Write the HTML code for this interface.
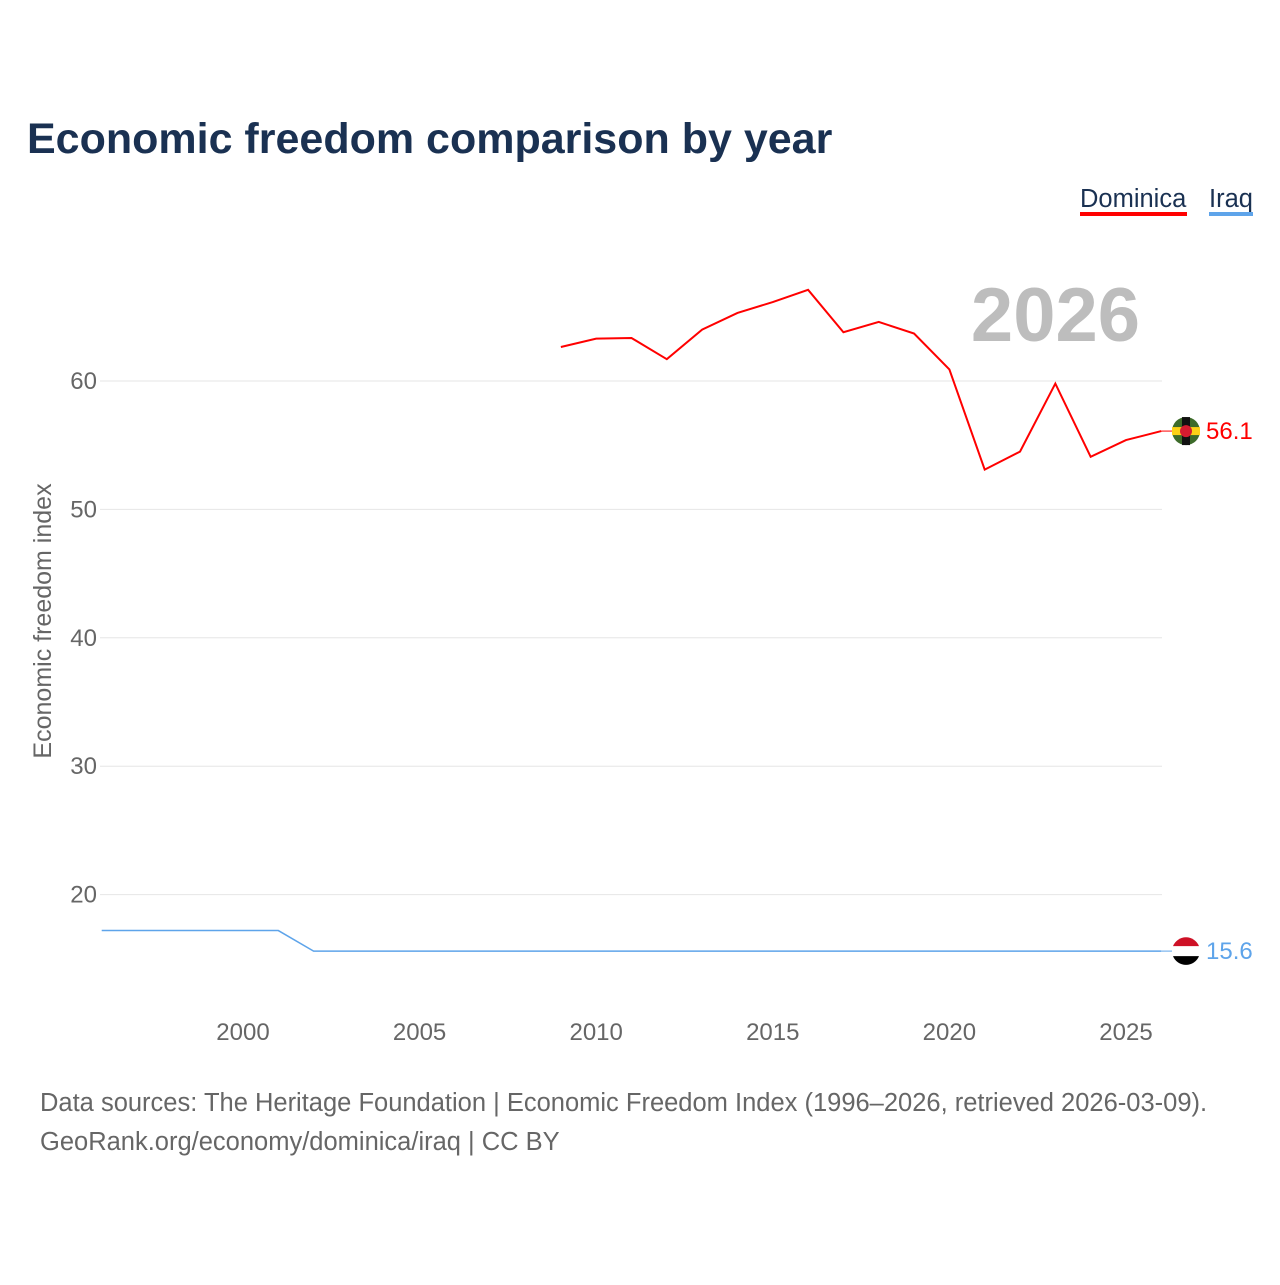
<!DOCTYPE html>
<html><head><meta charset="utf-8"><style>
body{margin:0;background:#fff;width:1280px;height:1280px;overflow:hidden;font-family:"Liberation Sans",sans-serif}
svg text{font-family:"Liberation Sans",sans-serif}
</style></head><body>
<svg width="1280" height="1280">
<text x="27" y="153" font-size="43" font-weight="bold" fill="#1a3152">Economic freedom comparison by year</text>
<g><text x="1080" y="207" font-size="25.5" fill="#1a3152">Dominica</text><rect x="1080" y="212" width="107" height="4" fill="#f00"/></g>
<g><text x="1209" y="207" font-size="25.5" fill="#1a3152">Iraq</text><rect x="1209" y="212" width="44" height="4" fill="#5ea4ea"/></g>
<text x="1140" y="341" font-size="76" font-weight="bold" fill="#bdbdbd" text-anchor="end">2026</text>
<text transform="translate(51,621) rotate(-90)" font-size="25" fill="#666" text-anchor="middle">Economic freedom index</text>
<g id="grid"></g><g id="xt"></g><g id="lines"></g>
<text x="40" y="1111" font-size="25.5" fill="#666">Data sources: The Heritage Foundation | Economic Freedom Index (1996–2026, retrieved 2026-03-09).</text>
<text x="40" y="1150" font-size="25.5" fill="#666">GeoRank.org/economy/dominica/iraq | CC BY</text>
</svg>
<script>
const yTicks=[20,30,40,50,60];
const xTicks=[2000,2005,2010,2015,2020,2025];
const domYears=[2009,2010,2011,2012,2013,2014,2015,2016,2017,2018,2019,2020,2021,2022,2023,2024,2025,2026];
const domVals=[62.65,63.3,63.35,61.7,64.0,65.3,66.15,67.1,63.8,64.6,63.7,60.9,53.1,54.5,59.8,54.1,55.4,56.1];
const iraqYears=[1996,1997,1998,1999,2000,2001,2002,2003,2004,2005,2006,2007,2008,2009,2010,2011,2012,2013,2014,2015,2016,2017,2018,2019,2020,2021,2022,2023,2024,2025,2026];
const iraqVals=[17.2,17.2,17.2,17.2,17.2,17.2,15.6,15.6,15.6,15.6,15.6,15.6,15.6,15.6,15.6,15.6,15.6,15.6,15.6,15.6,15.6,15.6,15.6,15.6,15.6,15.6,15.6,15.6,15.6,15.6,15.6];
const X=y=>101.7+(y-1996)*35.32;
const Y=v=>381+(60-v)*12.84;
const NS='http://www.w3.org/2000/svg';
function mk(t,a,p){const e=document.createElementNS(NS,t);for(const k in a)e.setAttribute(k,a[k]);p.appendChild(e);return e;}
const g=document.getElementById('grid');
yTicks.forEach(v=>{
 const l=mk('line',{x1:100,x2:1162,y1:Y(v),y2:Y(v),stroke:'#e6e6e6'},g);
 
 
 const t=mk('text',{x:97,y:Y(v)+8,'font-size':24,fill:'#666','text-anchor':'end'},g);t.textContent=v;
 
 
});
const xt=document.getElementById('xt');
xTicks.forEach(v=>{
 const t=mk('text',{x:X(v),y:1040,'font-size':24,fill:'#666','text-anchor':'middle'},xt);t.textContent=v;
 
 
});
const L=document.getElementById('lines');
function series(ys,vs,col,name,fl,w){
 const p=mk('polyline',{points:ys.map((y,i)=>X(y)+','+Y(vs[i])).join(' '),fill:'none',stroke:col,'stroke-width':w},L);
 
 
 const lx=X(ys[ys.length-1]),ly=Y(vs[vs.length-1]);
 mk('line',{x1:lx,x2:1172,y1:ly,y2:ly,stroke:col,'stroke-width':1},L);
 const gg=mk('g',{},L);
 
 
 const cx=1186;
 if(fl==='dm'){mk('circle',{cx:cx,cy:ly,r:14,fill:'#3d6b2a'},gg);mk('rect',{x:cx-14,y:ly-4,width:28,height:8,fill:'#fcd116'},gg);mk('rect',{x:cx-4,y:ly-14,width:8,height:28,fill:'#111'},gg);mk('circle',{cx:cx,cy:ly,r:6,fill:'#d41c30'},gg);}
 else{mk('circle',{cx:cx,cy:ly,r:14,fill:'#fff'},gg);mk('path',{d:`M${cx-13},${ly-5} A14,14 0 0 1 ${cx+13},${ly-5} Z`,fill:'#ce1126'},gg);mk('path',{d:`M${cx-13},${ly+5} A14,14 0 0 0 ${cx+13},${ly+5} Z`,fill:'#000'},gg);}
 const t=mk('text',{x:1206,y:ly+8,'font-size':24,fill:col},L);t.textContent=vs[vs.length-1].toFixed(1);
 
 
}
series(domYears,domVals,'#ff0000','dominica','dm',2);
series(iraqYears,iraqVals,'#5ea4ea','iraq','iq',1.5);
</script>
</body></html>
